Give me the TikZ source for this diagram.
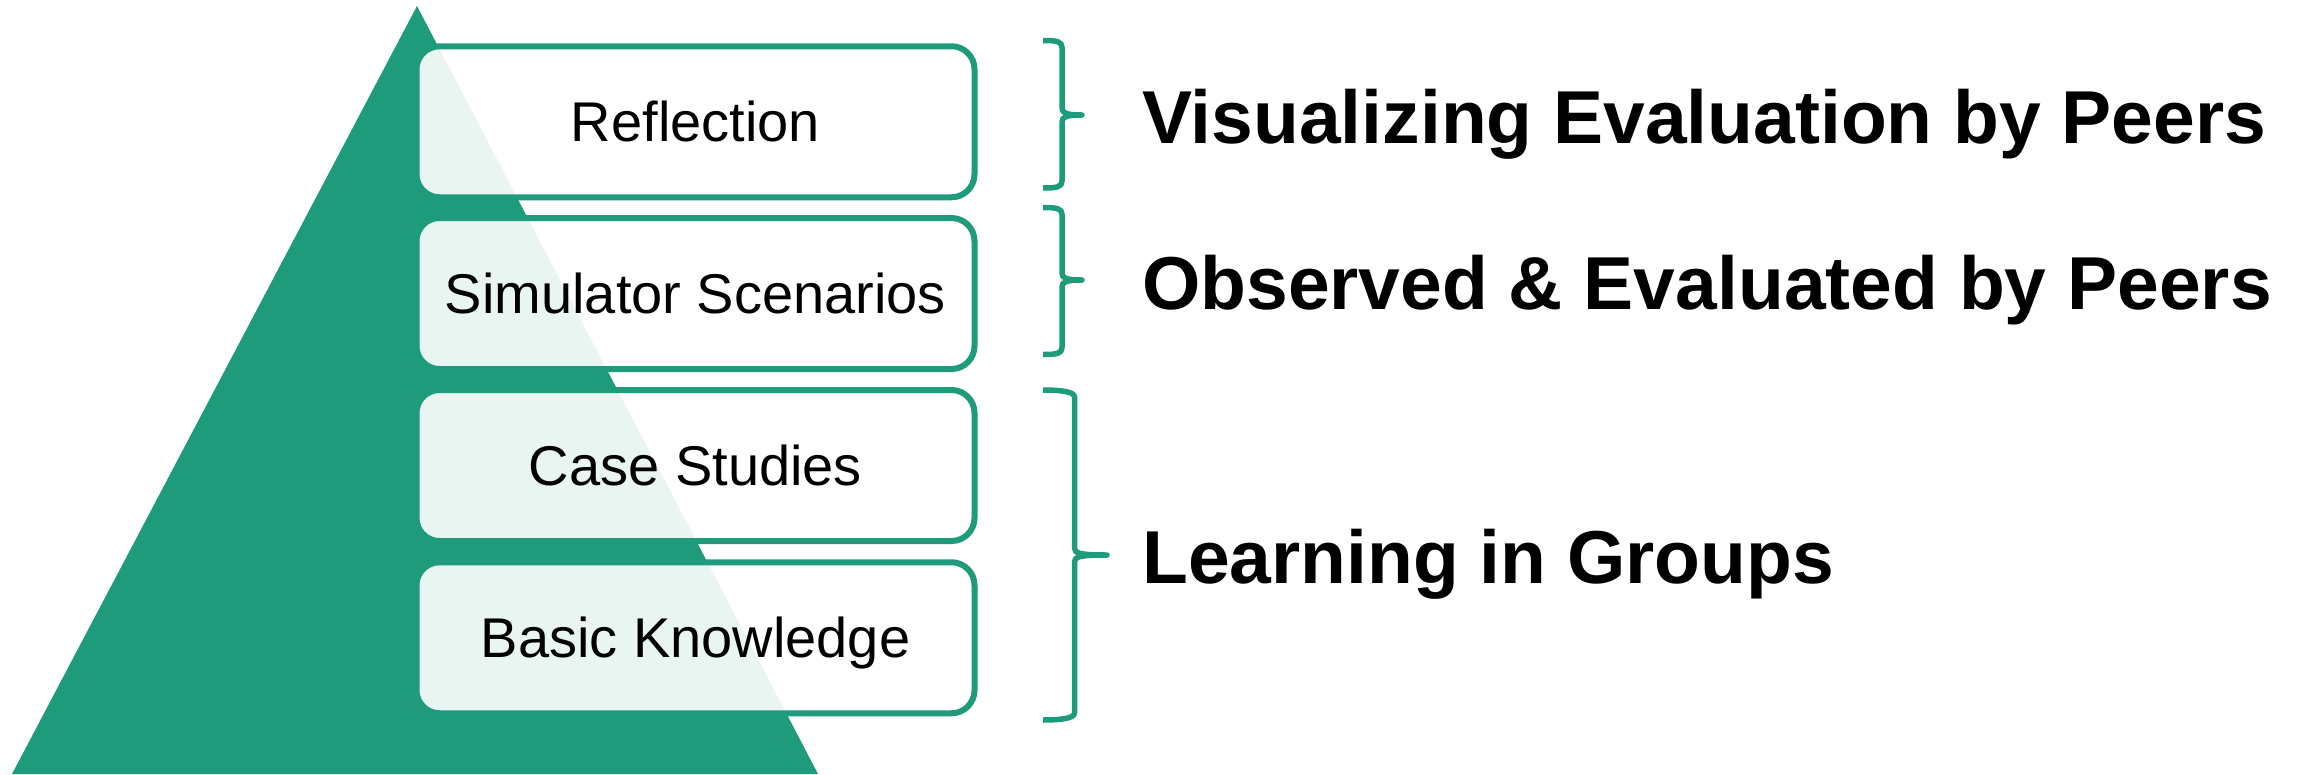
\documentclass[tikz,border=0pt]{standalone}
\usepackage{fontspec}
\setmainfont{Liberation Sans}
\definecolor{pgreen}{HTML}{1E9B7A}
\tikzset{
  layerbox/.style={draw=pgreen, line width=6pt, rounded corners=23pt, fill=white,
    fill opacity=0.9, text opacity=1, minimum width=558pt, minimum height=151pt,
    inner sep=0pt, text height=39.5pt, text depth=0pt,
    font=\fontsize{56}{66}\selectfont, text=black},
  bracestyle/.style={draw=pgreen, line width=5.5pt, line cap=butt, line join=round},
  grouplabel/.style={anchor=base west, inner sep=0pt,
    font=\fontsize{75}{88}\selectfont\bfseries, text=black}
}
\newcommand\gbrace[6]{% xl, xv, xt, ytop, ytip, ybot
  \draw[bracestyle] (#1,#4) .. controls ({#1+14},#4) and (#2,{#4+1}) .. (#2,{#4+7})
    -- (#2,{#5-7}) .. controls (#2,{#5-2}) and ({#2+4},#5) .. (#3,#5)
    .. controls ({#2+4},#5) and (#2,{#5+2}) .. (#2,{#5+7})
    -- (#2,{#6-7}) .. controls (#2,{#6-1}) and ({#1+14},#6) .. (#1,#6);}
\begin{document}
\begin{tikzpicture}[x=1pt,y=-1pt]
\useasboundingbox (0,0) rectangle (2300,774);
\clip (0,0) rectangle (2300,774);
\fill[pgreen] (417,6) -- (818,774) -- (12,774) -- cycle;
\node[layerbox] (refl) at (695.5,121.75) {Reflection};
\node[layerbox] (sim)  at (695.5,293.5) {Simulator Scenarios};
\node[layerbox] (case) at (695.5,465.5) {Case Studies};
\node[layerbox] (basic) at (695.5,637.75) {Basic Knowledge};
\gbrace{1043}{1062}{1082}{40.5}{115}{188}
\gbrace{1043}{1062}{1082}{207.5}{280}{354.5}
\gbrace{1043}{1074.5}{1107}{390}{555}{720}
\node[grouplabel] (l1) at (1142,143) {Visualizing Evaluation by Peers};
\node[grouplabel] (l2) at (1142,309) {Observed \& Evaluated by Peers};
\node[grouplabel] (l3) at (1142,583) {Learning in Groups};
\end{tikzpicture}
\end{document}
